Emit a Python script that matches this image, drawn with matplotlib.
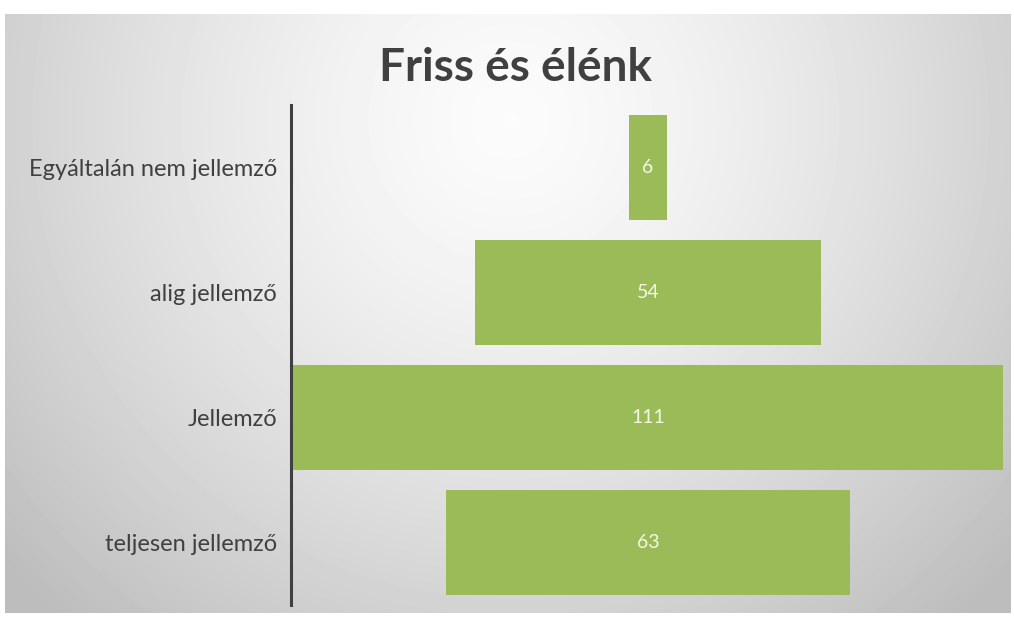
import numpy as np
import matplotlib
matplotlib.use("Agg")
import matplotlib.pyplot as plt

kategoriak = ["Egyáltalán nem jellemző", "alig jellemző", "Jellemző", "teljesen jellemző"]
ertekek = [6, 54, 111, 63]

plt.rcParams['font.family'] = ['Lato', 'DejaVu Sans']

fig = plt.figure(figsize=(10.14, 6.21), dpi=100)

# szürke, középen világos háttér
hatter = fig.add_axes([0, 0, 1, 1])
W, H = 1014, 621
xx, yy = np.meshgrid(np.arange(W), np.arange(H))
r = np.sqrt(((xx - 510) / 620.0) ** 2 + ((yy - 120) / 620.0) ** 2)
szin = np.clip(0.985 - 0.22 * r ** 1.4, 0.74, 1.0)
kep = np.ones((H, W))
kep[14:613, 5:1011] = szin[14:613, 5:1011]
hatter.imshow(kep, cmap='gray', vmin=0, vmax=1, aspect='auto', interpolation='bilinear')
hatter.axis('off')

ax = fig.add_axes([291 / W, 1 - 605 / H, 714 / W, 500 / H])
ax.patch.set_alpha(0)
y = np.arange(len(kategoriak))
ax.barh(y, ertekek, left=[-v / 2 for v in ertekek], height=0.84, color='#9bbb59')
for yi, v in zip(y, ertekek):
    ax.text(0, yi, str(v), ha='center', va='center', color='#f4f7e6', fontsize=14)

ax.set_xlim(-55.8, 55.8)
ax.set_ylim(3.5, -0.5)
ax.set_yticks(y)
ax.set_yticklabels(kategoriak, fontsize=17, color='#404040')
ax.tick_params(axis='y', length=0, pad=10)
ax.set_xticks([])
for s in ['top', 'right', 'bottom']:
    ax.spines[s].set_visible(False)
ax.spines['left'].set_color('#404040')
ax.spines['left'].set_linewidth(2.2)

fig.text(515 / W, 1 - 68 / H, "Friss és élénk", ha='center', va='center',
         fontsize=33, fontweight='bold', color='#404040')

fig.savefig("out.png", dpi=100)
